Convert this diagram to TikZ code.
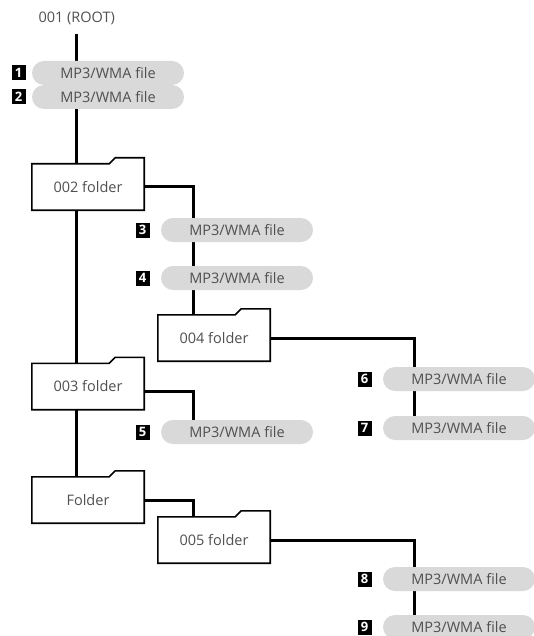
\documentclass[tikz,border=0pt]{standalone}
\usepackage{fontspec}
\setmainfont{Open Sans}
\usetikzlibrary{positioning,backgrounds,calc}
\definecolor{GrisTexto}{RGB}{80,80,80}
\definecolor{GrisPastilla}{RGB}{217,217,217}
\tikzset{
  filepill/.style={fill=GrisPastilla, rounded corners=12pt, minimum width=152pt,
    minimum height=24pt, inner sep=0pt, text=GrisTexto, font=\fontsize{14.5}{15}\selectfont},
  numbox/.style={fill=black, text=white, minimum width=14pt, minimum height=15pt,
    inner sep=0pt, font=\fontsize{13}{13}\selectfont\bfseries},
  folderbox/.style={minimum width=112pt, minimum height=46pt, inner sep=0pt,
    text=GrisTexto, font=\fontsize{14.5}{15}\selectfont},
  folderline/.style={draw=black, line width=1.6pt, fill=white, line join=miter},
  treeline/.style={line width=3pt, black},
}
\begin{document}
\begin{tikzpicture}[x=1pt, y=-1pt]
  \useasboundingbox (0,0) rectangle (533,636);
  % columnas de las ramas
  \coordinate (colA) at (76.7,0);
  \coordinate (colB) at (193.3,0);
  \coordinate (colC) at (414.5,0);

  \node[text=GrisTexto, font=\fontsize{14.5}{15}\selectfont, inner ysep=9pt] (root) at (76.7,18) {001 (ROOT)};

  % carpetas
  \node[folderbox] (f002) at (88,187) {002 folder};
  \node[folderbox] (f004) at (214,338) {004 folder};
  \node[folderbox] (f003) at (88,386.5) {003 folder};
  \node[folderbox] (fx) at (88,500) {Folder};
  \node[folderbox] (f005) at (214,540) {005 folder};

  % archivos
  \node[filepill] (p1) at (108,73) {MP3/WMA file};
  \node[filepill] (p2) at (108,97) {MP3/WMA file};
  \node[filepill] (p3) at (237,230) {MP3/WMA file};
  \node[filepill] (p4) at (237,278) {MP3/WMA file};
  \node[filepill] (p5) at (237,432) {MP3/WMA file};
  \node[filepill] (p6) at (459,379) {MP3/WMA file};
  \node[filepill] (p7) at (459,428) {MP3/WMA file};
  \node[filepill] (p8) at (459,579) {MP3/WMA file};
  \node[filepill] (p9) at (459,627) {MP3/WMA file};

  \node[numbox, left=6pt of p1] (n1) {1};
  \node[numbox, left=6pt of p2] (n2) {2};
  \foreach \i in {3,...,9}
    \node[numbox, left=11pt of p\i] (n\i) {\i};

  \begin{pgfonlayer}{background}
    \draw[treeline] (root.south) -- (colA |- fx.north);
    \draw[treeline] (f002.east) -| (colB |- f004.north);
    \draw[treeline] (f004.east) -| (colC |- p7.center);
    \draw[treeline] ([yshift=-5pt]f003.east) -| (colB |- p5.center);
    \draw[treeline] (fx.east) -| (colB |- f005.north);
    \draw[treeline] (f005.east) -| (colC |- p9.center);
    % contorno de carpeta encima de las lineas
    \foreach \f in {f002,f004,f003,fx,f005}
      \draw[folderline] (\f.south west) -- (\f.north west)
        -- ([xshift=-35pt]\f.north east) -- ([xshift=-29pt,yshift=6pt]\f.north east)
        -- ([yshift=6pt]\f.north east) -- (\f.south east) -- cycle;
  \end{pgfonlayer}
\end{tikzpicture}
\end{document}
